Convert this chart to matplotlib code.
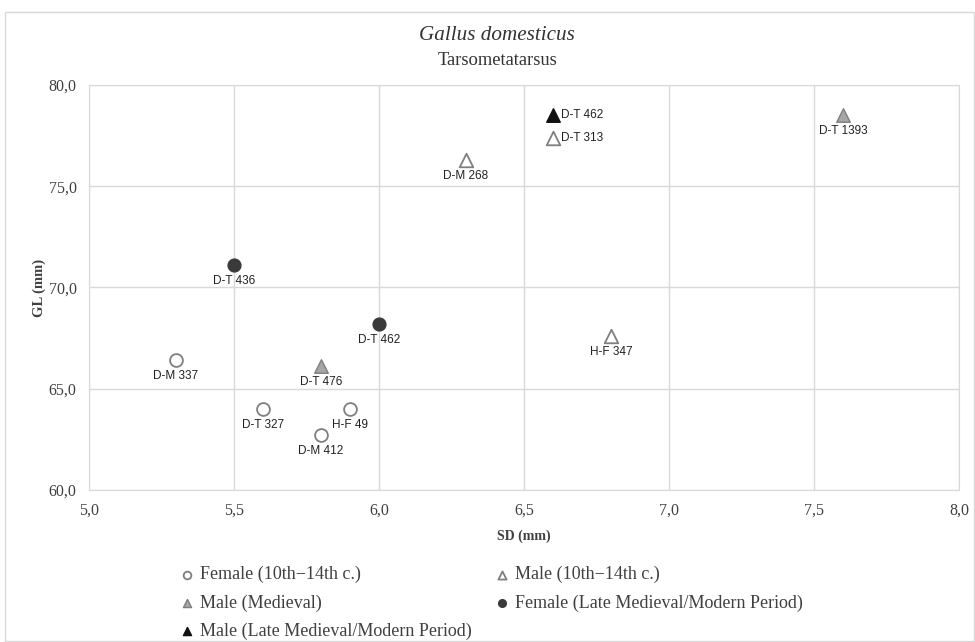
import matplotlib.pyplot as plt
from matplotlib.patches import Rectangle
from matplotlib.ticker import FuncFormatter, MultipleLocator

# ====== DATA ======
groups = ["Female (10th\u221214th c.)", "Male (10th\u221214th c.)", "Male (Medieval)",
          "Female (Late Medieval/Modern Period)", "Male (Late Medieval/Modern Period)"]

female_early_sd = [5.3, 5.6, 5.9, 5.8]
female_early_gl = [66.4, 64.0, 64.0, 62.7]
female_early_lab = ["D-M 337", "D-T 327", "H-F 49", "D-M 412"]

male_early_sd = [6.3, 6.6, 6.8]
male_early_gl = [76.3, 77.4, 67.6]
male_early_lab = ["D-M 268", "D-T 313", "H-F 347"]

male_med_sd = [5.8, 7.6]
male_med_gl = [66.1, 78.5]
male_med_lab = ["D-T 476", "D-T 1393"]

female_late_sd = [5.5, 6.0]
female_late_gl = [71.1, 68.2]
female_late_lab = ["D-T 436", "D-T 462"]

male_late_sd = [6.6]
male_late_gl = [78.5]
male_late_lab = ["D-T 462"]

# labels placed to the right of the point instead of below
right_labels = {("D-T 313", 6.6), ("D-T 462", 6.6)}

serif = "Liberation Serif"
sans = "Liberation Sans"

fig = plt.figure(figsize=(9.75, 6.42), dpi=100)
fig.patches.append(Rectangle((0.005, 0.002), 0.994, 0.98, transform=fig.transFigure,
                             fill=False, edgecolor="#d9d9d9", lw=1))
ax = fig.add_axes([0.0913, 0.2368, 0.8923, 0.6308])

styles = [
    dict(marker="o", facecolor="white", edgecolor="#7f7f7f", s=85, lw=1.3),
    dict(marker="^", facecolor="white", edgecolor="#7f7f7f", s=95, lw=1.3),
    dict(marker="^", facecolor="#a6a6a6", edgecolor="#7f7f7f", s=95, lw=1.0),
    dict(marker="o", facecolor="#3a3a3a", edgecolor="#3a3a3a", s=85, lw=1.0),
    dict(marker="^", facecolor="#111111", edgecolor="#111111", s=95, lw=1.0),
]
series = [
    (female_early_sd, female_early_gl, female_early_lab),
    (male_early_sd, male_early_gl, male_early_lab),
    (male_med_sd, male_med_gl, male_med_lab),
    (female_late_sd, female_late_gl, female_late_lab),
    (male_late_sd, male_late_gl, male_late_lab),
]

handles = []
for (xs, ys, labs), st, name in zip(series, styles, groups):
    h = ax.scatter(xs, ys, label=name, zorder=3, **st)
    handles.append(h)
    for x, y, lab in zip(xs, ys, labs):
        if (lab, x) in right_labels:
            ax.annotate(lab, (x, y), xytext=(6, 0), textcoords="offset points",
                        ha="left", va="center", fontsize=8.5, family=sans, color="#222222")
        else:
            ax.annotate(lab, (x, y), xytext=(0, -7), textcoords="offset points",
                        ha="center", va="top", fontsize=8.5, family=sans, color="#222222")

ax.set_xlim(5, 8)
ax.set_ylim(60, 80)
ax.xaxis.set_major_locator(MultipleLocator(0.5))
ax.yaxis.set_major_locator(MultipleLocator(5))
fmt = FuncFormatter(lambda v, p: f"{v:.1f}".replace(".", ","))
ax.xaxis.set_major_formatter(fmt)
ax.yaxis.set_major_formatter(fmt)
ax.grid(True, color="#d9d9d9", lw=1)
ax.set_axisbelow(True)
for sp in ax.spines.values():
    sp.set_color("#d9d9d9")
ax.tick_params(length=0, pad=9, labelsize=11.5, labelcolor="#404040")
for t in ax.get_xticklabels() + ax.get_yticklabels():
    t.set_family(serif)

ax.set_xlabel("SD (mm)", family=serif, fontweight="bold", fontsize=10, color="#404040", labelpad=8)
ax.set_ylabel("GL (mm)", family=serif, fontweight="bold", fontsize=10.5, color="#404040", labelpad=2)

fig.text(0.51, 0.945, "Gallus domesticus", ha="center", va="center", family=serif,
         style="italic", fontsize=15.2, color="#333333")
fig.text(0.51, 0.906, "Tarsometatarsus", ha="center", va="center", family=serif,
         fontsize=13.3, color="#333333")

order = [0, 2, 4, 1, 3]
leg = fig.legend([handles[i] for i in order], [groups[i] for i in order],
                 loc="upper left", bbox_to_anchor=(0.1734, 0.1322), ncol=2, frameon=False,
                 prop={"family": serif, "size": 13}, handletextpad=0.2,
                 columnspacing=1.2, labelspacing=0.61, markerscale=0.6, borderpad=0,
                 handlelength=1.0, labelcolor="#404040")

fig.savefig("out.png", dpi=100)
